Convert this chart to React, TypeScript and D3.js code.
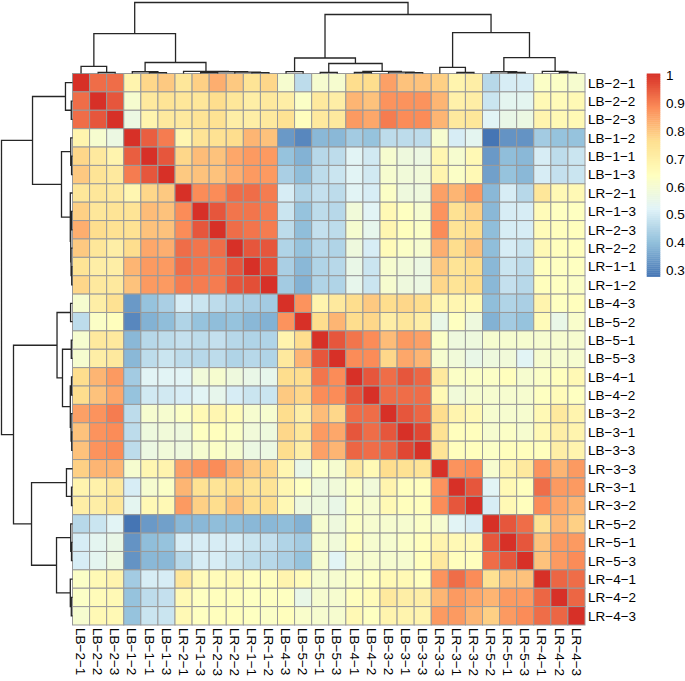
import React from "react";
import * as d3 from "d3";

// ---- data ----
const labels: string[] = [
  "LB-2-1", "LB-2-2", "LB-2-3", "LB-1-2", "LB-1-1", "LB-1-3",
  "LR-2-1", "LR-1-3", "LR-2-3", "LR-2-2", "LR-1-1", "LR-1-2",
  "LB-4-3", "LB-5-2", "LB-5-1", "LB-5-3", "LB-4-1", "LB-4-2",
  "LB-3-2", "LB-3-1", "LB-3-3", "LR-3-3", "LR-3-1", "LR-3-2",
  "LR-5-2", "LR-5-1", "LR-5-3", "LR-4-1", "LR-4-2", "LR-4-3",
];

// upper triangle of the correlation matrix: row i holds values for columns i+1..29
const corrUpper: number[][] = [
  [0.92, 0.92, 0.68, 0.77, 0.79, 0.73, 0.78, 0.83, 0.79, 0.74, 0.77, 0.60, 0.46, 0.60, 0.60, 0.76, 0.76, 0.85, 0.80, 0.80, 0.78, 0.68, 0.70, 0.45, 0.50, 0.50, 0.62, 0.62, 0.60],
  [0.95, 0.60, 0.72, 0.74, 0.73, 0.73, 0.76, 0.73, 0.70, 0.72, 0.70, 0.62, 0.72, 0.70, 0.82, 0.80, 0.87, 0.87, 0.87, 0.82, 0.69, 0.70, 0.48, 0.53, 0.53, 0.66, 0.65, 0.66],
  [0.56, 0.68, 0.72, 0.72, 0.74, 0.75, 0.70, 0.70, 0.72, 0.75, 0.64, 0.72, 0.72, 0.86, 0.84, 0.90, 0.88, 0.88, 0.82, 0.72, 0.73, 0.52, 0.55, 0.56, 0.68, 0.66, 0.66],
  [0.94, 0.90, 0.67, 0.74, 0.75, 0.76, 0.82, 0.80, 0.33, 0.30, 0.38, 0.38, 0.42, 0.40, 0.46, 0.46, 0.46, 0.60, 0.50, 0.53, 0.27, 0.32, 0.32, 0.42, 0.40, 0.40],
  [0.95, 0.77, 0.81, 0.80, 0.84, 0.86, 0.86, 0.40, 0.37, 0.45, 0.46, 0.52, 0.49, 0.60, 0.57, 0.56, 0.67, 0.60, 0.66, 0.33, 0.39, 0.38, 0.50, 0.46, 0.48],
  [0.79, 0.80, 0.80, 0.83, 0.86, 0.86, 0.43, 0.39, 0.46, 0.48, 0.52, 0.49, 0.60, 0.58, 0.58, 0.68, 0.62, 0.66, 0.34, 0.40, 0.38, 0.50, 0.47, 0.48],
  [0.88, 0.88, 0.92, 0.92, 0.90, 0.50, 0.44, 0.47, 0.46, 0.52, 0.50, 0.62, 0.57, 0.57, 0.85, 0.82, 0.86, 0.38, 0.50, 0.45, 0.73, 0.66, 0.66],
  [0.95, 0.91, 0.91, 0.90, 0.48, 0.40, 0.46, 0.45, 0.58, 0.52, 0.66, 0.63, 0.60, 0.87, 0.75, 0.78, 0.38, 0.50, 0.50, 0.65, 0.63, 0.63],
  [0.92, 0.91, 0.90, 0.46, 0.39, 0.47, 0.46, 0.60, 0.54, 0.67, 0.64, 0.62, 0.88, 0.74, 0.76, 0.39, 0.50, 0.50, 0.65, 0.64, 0.64],
  [0.95, 0.95, 0.44, 0.40, 0.45, 0.44, 0.57, 0.50, 0.65, 0.62, 0.60, 0.83, 0.76, 0.80, 0.39, 0.50, 0.48, 0.66, 0.64, 0.64],
  [0.96, 0.43, 0.38, 0.44, 0.45, 0.55, 0.48, 0.60, 0.58, 0.56, 0.79, 0.74, 0.76, 0.38, 0.48, 0.46, 0.64, 0.63, 0.63],
  [0.42, 0.37, 0.44, 0.44, 0.54, 0.48, 0.60, 0.57, 0.56, 0.77, 0.74, 0.76, 0.38, 0.47, 0.45, 0.64, 0.63, 0.62],
  [0.87, 0.68, 0.72, 0.76, 0.79, 0.76, 0.77, 0.76, 0.67, 0.67, 0.66, 0.39, 0.44, 0.43, 0.68, 0.63, 0.64],
  [0.76, 0.82, 0.76, 0.77, 0.70, 0.73, 0.70, 0.55, 0.63, 0.57, 0.37, 0.42, 0.40, 0.65, 0.55, 0.61],
  [0.95, 0.91, 0.88, 0.81, 0.86, 0.85, 0.62, 0.57, 0.57, 0.60, 0.60, 0.60, 0.60, 0.60, 0.60],
  [0.88, 0.88, 0.77, 0.84, 0.82, 0.60, 0.58, 0.55, 0.57, 0.58, 0.52, 0.60, 0.60, 0.60],
  [0.95, 0.92, 0.95, 0.93, 0.72, 0.62, 0.62, 0.62, 0.64, 0.60, 0.62, 0.64, 0.66],
  [0.92, 0.92, 0.92, 0.66, 0.58, 0.60, 0.60, 0.60, 0.60, 0.63, 0.65, 0.63],
  [0.95, 0.93, 0.76, 0.68, 0.66, 0.60, 0.60, 0.60, 0.66, 0.72, 0.68],
  [0.97, 0.75, 0.64, 0.64, 0.60, 0.62, 0.60, 0.66, 0.70, 0.68],
  [0.74, 0.64, 0.64, 0.62, 0.64, 0.64, 0.64, 0.70, 0.68],
  [0.87, 0.88, 0.60, 0.68, 0.72, 0.87, 0.82, 0.86],
  [0.95, 0.52, 0.66, 0.64, 0.92, 0.86, 0.86],
  [0.50, 0.66, 0.64, 0.88, 0.84, 0.82],
  [0.95, 0.92, 0.75, 0.82, 0.78],
  [0.95, 0.80, 0.86, 0.86],
  [0.80, 0.86, 0.88],
  [0.93, 0.92],
  [0.93],
];

const legendTicks: number[] = [0.3, 0.4, 0.5, 0.6, 0.7, 0.8, 0.9, 1];
const paletteColors: string[] = ["#4575B4", "#91BFDB", "#E0F3F8", "#FFFFBF", "#FEE090", "#FC8D59", "#D73027"];

// dendrogram (same clustering for rows & columns); h = relative merge height, leaves are label indices
type Tree = number | { h: number; c: [Tree, Tree] };
const nd = (h: number, a: Tree, b: Tree): Tree => ({ h, c: [a, b] });
const clusterTree: Tree = nd(1.0,
  nd(0.563,
    nd(0.099, 0, nd(0.017, 1, 2)),
    nd(0.155,
      nd(0.025, 3, nd(0.013, 4, 5)),
      nd(0.031, 6, nd(0.025, nd(0.014, 7, 8), nd(0.02, 9, nd(0.011, 10, 11)))))),
  nd(0.831,
    nd(0.218,
      nd(0.027, 12, 13),
      nd(0.141,
        nd(0.017, 14, 15),
        nd(0.031, nd(0.014, 16, 17), nd(0.02, 18, nd(0.011, 19, 20))))),
    nd(0.577,
      nd(0.085, 21, nd(0.014, 22, 23)),
      nd(0.225,
        nd(0.025, 24, nd(0.014, 25, 26)),
        nd(0.031, 27, nd(0.017, 28, 29))))));

// ---- helpers ----
function buildMatrix(): number[][] {
  const n = labels.length;
  const m: number[][] = d3.range(n).map(() => new Array(n).fill(1));
  corrUpper.forEach((row, i) => {
    row.forEach((v, k) => {
      const j = i + 1 + k;
      m[i][j] = v;
      m[j][i] = v;
    });
  });
  return m;
}

function dendroSegments(tree: Tree, pos: (i: number) => number): { a: [number, number]; b: [number, number]; h: number }[] {
  const segs: { a: [number, number]; b: [number, number]; h: number }[] = [];
  const walk = (t: Tree): [number, number] => {
    if (typeof t === "number") return [pos(t), 0];
    const l = walk(t.c[0]);
    const r = walk(t.c[1]);
    segs.push({ a: l, b: r, h: t.h });
    return [(l[0] + r[0]) / 2, t.h];
  };
  walk(tree);
  return segs;
}

export default function App() {
  const W = 685, H = 681;
  const matrix = buildMatrix();
  const vmin = d3.min(matrix.flat()) as number;
  const vmax = d3.max(matrix.flat()) as number;

  const x = d3.scaleBand<string>().domain(labels).range([72.5, 585]);
  const y = d3.scaleBand<string>().domain(labels).range([73.5, 625]);

  const color = d3.scaleLinear<string>()
    .domain(paletteColors.map((_, i) => vmin + (i * (vmax - vmin)) / (paletteColors.length - 1)))
    .range(paletteColors)
    .interpolate(d3.interpolateRgb)
    .clamp(true);

  // dendrogram height scale (pixels from heatmap edge)
  const hScale = d3.scaleLinear().domain([0, 1]).range([0, 71]);
  const colCenter = (i: number) => (x(labels[i]) as number) + x.bandwidth() / 2;
  const rowCenter = (i: number) => (y(labels[i]) as number) + y.bandwidth() / 2;

  const topSegs = dendroSegments(clusterTree, colCenter);
  const leftSegs = dendroSegments(clusterTree, rowCenter);
  const top0 = 73.5, left0 = 72.5;

  const topPath = topSegs.map(s =>
    `M${s.a[0]},${top0 - hScale(s.a[1])}V${top0 - hScale(s.h)}H${s.b[0]}V${top0 - hScale(s.b[1])}`).join("");
  const leftPath = leftSegs.map(s =>
    `M${left0 - hScale(s.a[1])},${s.a[0]}H${left0 - hScale(s.h)}V${s.b[0]}H${left0 - hScale(s.b[1])}`).join("");

  // legend
  const barTop = 73.5, barBottom = 276.5, barX = 646.7, barW = 13.6;
  const ly = d3.scaleLinear().domain([vmin, vmax]).range([barBottom, barTop]);
  const nSteps = 100;
  const steps = d3.range(nSteps).map(k => vmin + ((k + 0.5) * (vmax - vmin)) / nSteps);
  const stepH = (barBottom - barTop) / nSteps;

  const font = "'Liberation Sans', Arial, Helvetica, sans-serif";
  const fs = 13.5;
  const disp = (s: string) => s.replace(/-/g, "\u2212");

  return (
    <svg width={W} height={H} style={{ position: "absolute", left: 0, top: 0, background: "#fff" }}
      fontFamily={font}>
      <rect x={0} y={0} width={W} height={H} fill="#fff" />
      {/* heatmap cells */}
      <g>
        {matrix.map((row, i) =>
          row.map((v, j) => (
            <rect key={`${i}-${j}`}
              x={x(labels[j]) as number}
              y={y(labels[i]) as number}
              width={x.bandwidth()}
              height={y.bandwidth()}
              fill={color(v)}
              stroke="#999999"
              strokeWidth={1} />
          ))
        )}
      </g>
      {/* dendrograms */}
      <path d={topPath} fill="none" stroke="#262626" strokeWidth={1.3} />
      <path d={leftPath} fill="none" stroke="#262626" strokeWidth={1.3} />
      {/* row labels */}
      <g fontSize={fs} fill="#000">
        {labels.map((l, i) => (
          <text key={l} x={588} y={rowCenter(i) + fs * 0.36}>{disp(l)}</text>
        ))}
      </g>
      {/* column labels */}
      <g fontSize={fs} fill="#000">
        {labels.map((l, i) => (
          <text key={l} transform={`translate(${colCenter(i) - fs * 0.36},628) rotate(90)`} x={0} y={0}>{disp(l)}</text>
        ))}
      </g>
      {/* color legend */}
      <g>
        {steps.map((v, k) => (
          <rect key={k} x={barX} y={barBottom - (k + 1) * stepH} width={barW} height={stepH + 0.4}
            fill={color(v)} />
        ))}
      </g>
      <g fontSize={fs} fill="#000">
        {legendTicks.map(t => (
          <text key={t} x={666} y={ly(t) + fs * 0.36 + 2}>{String(t)}</text>
        ))}
      </g>
    </svg>
  );
}
